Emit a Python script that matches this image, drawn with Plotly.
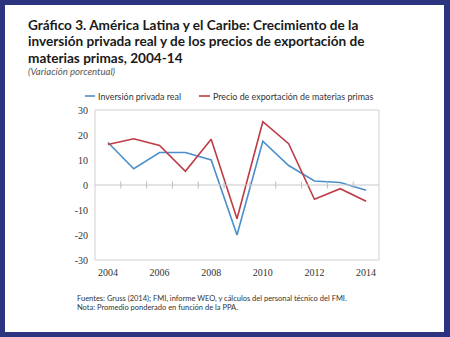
import plotly.graph_objects as go

years = [2004, 2005, 2006, 2007, 2008, 2009, 2010, 2011, 2012, 2013, 2014]
inversion = [17.0, 6.5, 13.0, 13.0, 10.0, -20.0, 17.5, 7.8, 1.6, 1.0, -2.1]
precios = [16.2, 18.5, 15.8, 5.5, 18.3, -13.5, 25.3, 16.5, -5.7, -1.5, -6.5]
x_ticks = [2004, 2006, 2008, 2010, 2012, 2014]
y_ticks = [-30, -20, -10, 0, 10, 20, 30]

W, H = 450, 337
L, R, T, B = 95, 71, 110, 77
PW, PH = W - L - R, H - T - B

def px(x):
    return (x - L) / PW

def py(y):
    return (H - B - y) / PH

BLUE = "#4A8FCB"
RED = "#BE3B45"
NAVY = "#2C3480"

fig = go.Figure()
fig.add_trace(go.Scatter(x=years, y=inversion, mode="lines", line=dict(color=BLUE, width=1.6),
                         name="Inversión privada real", showlegend=False))
fig.add_trace(go.Scatter(x=years, y=precios, mode="lines", line=dict(color=RED, width=1.6),
                         name="Precio de exportación de materias primas", showlegend=False))
# minor tick marks on the zero line, between categories
fig.add_trace(go.Scatter(x=[y + 0.5 for y in years[:-1]], y=[0] * (len(years) - 1), mode="markers",
                         marker=dict(symbol="line-ns-open", size=5, color="#BBBBBB",
                                     line=dict(color="#BBBBBB", width=1)),
                         showlegend=False, hoverinfo="skip"))

shapes = [
    dict(type="rect", xref="paper", yref="paper", x0=px(5), x1=px(444), y0=py(332), y1=py(5),
         fillcolor="white", line=dict(width=0), layer="below"),
    dict(type="rect", xref="paper", yref="paper", x0=0, x1=1, y0=0, y1=1,
         fillcolor="rgba(0,0,0,0)", line=dict(color="#D0D0D0", width=1)),
    dict(type="line", xref="paper", yref="y", x0=0, x1=1, y0=0, y1=0,
         line=dict(color="#C8C8C8", width=1)),
    dict(type="line", xref="paper", yref="paper", x0=px(85), x1=px(95), y0=py(96), y1=py(96),
         line=dict(color=BLUE, width=1.6)),
    dict(type="line", xref="paper", yref="paper", x0=px(199), x1=px(210), y0=py(96), y1=py(96),
         line=dict(color=RED, width=1.6)),
]

TF = "Lato"
ann = []
for i, line in enumerate(["Gráfico 3. América Latina y el Caribe: Crecimiento de la",
                          "inversión privada real y de los precios de exportación de",
                          "materias primas, 2004-14"]):
    ann.append(dict(text="<b>" + line + "</b>", x=px(26), y=py(25.3 + 16.2 * i), xref="paper", yref="paper",
                    xanchor="left", yanchor="middle", showarrow=False,
                    font=dict(family=TF, size=13.6, color="#1a1a1a")))
ann.append(dict(text="<i>(Variación porcentual)</i>", x=px(26), y=py(71.3), xref="paper", yref="paper",
                xanchor="left", yanchor="middle", showarrow=False,
                font=dict(family=TF, size=9.6, color="#555555")))
ann.append(dict(text="Inversión privada real", x=px(96), y=py(96), xref="paper", yref="paper",
                xanchor="left", yanchor="middle", showarrow=False,
                font=dict(family=TF, size=8.9, color="#333333")))
ann.append(dict(text="Precio de exportación de materias primas", x=px(211), y=py(96), xref="paper",
                yref="paper", xanchor="left", yanchor="middle", showarrow=False,
                font=dict(family=TF, size=8.9, color="#333333")))
ann.append(dict(text="Fuentes: Gruss (2014); FMI, informe WEO, y cálculos del personal técnico del FMI.",
                x=px(75), y=py(298), xref="paper", yref="paper", xanchor="left", yanchor="middle",
                showarrow=False, font=dict(family=TF, size=7.5, color="#333333")))
ann.append(dict(text="Nota: Promedio ponderado en función de la PPA.",
                x=px(75), y=py(307), xref="paper", yref="paper", xanchor="left", yanchor="middle",
                showarrow=False, font=dict(family=TF, size=7.5, color="#333333")))

fig.update_layout(
    width=W, height=H, margin=dict(l=L, r=R, t=T, b=B),
    paper_bgcolor=NAVY, plot_bgcolor="white",
    shapes=shapes, annotations=ann, showlegend=False,
    xaxis=dict(range=[2003.5, 2014.5], tickvals=x_ticks, ticktext=[str(v) for v in x_ticks],
               showgrid=False, zeroline=False, showline=False, ticks="", ticklabelstandoff=5,
               tickfont=dict(family="Liberation Serif", size=10, color="#333333")),
    yaxis=dict(range=[-30, 30], tickvals=y_ticks, ticktext=[str(v) for v in y_ticks],
               showgrid=False, zeroline=False, showline=False, ticks="", ticklabelstandoff=6,
               tickfont=dict(family="Liberation Serif", size=10, color="#333333")),
)
fig.write_html("out.html")
